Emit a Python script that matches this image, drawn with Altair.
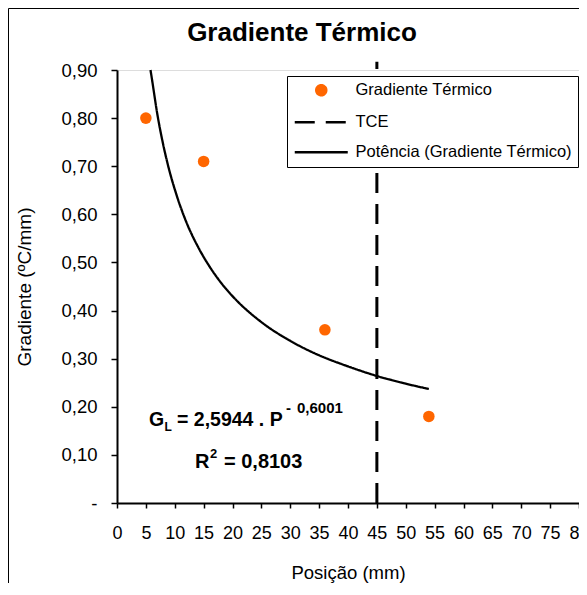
import altair as alt
import pandas as pd

# ---------------- data ----------------
pos_mm = [5, 15, 36, 54]
grad = [0.80, 0.71, 0.36, 0.18]

fit_pos = [5.8, 6, 7, 8, 9, 10, 12, 14, 16, 18, 20, 25, 30, 35, 40, 45, 50, 54]
fit_grad = [0.900, 0.885, 0.807, 0.745, 0.694, 0.652, 0.584, 0.533, 0.492, 0.458,
            0.430, 0.376, 0.337, 0.307, 0.284, 0.264, 0.248, 0.237]

tce_pos = [45]
tce_low = [0.0]
tce_high = [0.917]

series = ["Gradiente Térmico", "TCE", "Potência (Gradiente Térmico)"]
x_ticks = [0, 5, 10, 15, 20, 25, 30, 35, 40, 45, 50, 55, 60, 65, 70, 75, 80]
y_ticks = [0.0, 0.1, 0.2, 0.3, 0.4, 0.5, 0.6, 0.7, 0.8, 0.9]

# annotation anchors (data units)
eq_anchor = [5.54, 0.161]
r2_anchor = [13.5, 0.073]

# ---------------- styles ----------------
FONT = "Liberation Sans"
ORANGE = "#FF6600"

pts = pd.DataFrame({"x": pos_mm, "y": grad, "serie": series[0]})
tce = pd.DataFrame({"x": tce_pos, "y": tce_low, "y2": tce_high, "serie": series[1]})
fit = pd.DataFrame({"x": fit_pos, "y": fit_grad, "serie": series[2]})

legend = alt.Legend(
    title=None, orient="none", legendX=170, legendY=6, direction="vertical",
    padding=6, strokeColor="black", fillColor="white",
    labelFont=FONT, labelFontSize=16.5, labelColor="black", labelLimit=500,
    symbolSize=100, symbolStrokeWidth=2.5, symbolOffset=20, labelOffset=26,
    rowPadding=13,
)
sdom = dict(domain=series)
color_enc = alt.Color("serie:N", scale=alt.Scale(range=[ORANGE, "black", "black"], **sdom), legend=legend)
shape_enc = alt.Shape("serie:N", scale=alt.Scale(range=["circle", "M-5.3,0H5.3", "M-5.3,0H5.3"], **sdom), legend=legend)
dash_enc = alt.StrokeDash("serie:N", scale=alt.Scale(range=[[1, 0], [20, 11], [1, 0]], **sdom), legend=legend)

xscale = alt.Scale(domain=[0, 80], nice=False, zero=False)
yscale = alt.Scale(domain=[0, 0.9], nice=False, zero=False)

x_axis = alt.Axis(
    values=x_ticks, format="d", title="Posição (mm)", grid=False,
    tickSize=5, tickColor="black", tickWidth=1.5,
    domainColor="black", domainWidth=2,
    labelFont=FONT, labelFontSize=18, labelColor="black", labelPadding=16,
    labelFlush=False, labelOverlap=False,
    titleFont=FONT, titleFontSize=18.5, titleFontWeight="normal", titleColor="black",
    titlePadding=21,
)
y_axis = alt.Axis(
    values=y_ticks, title="Gradiente (ºC/mm)", grid=False,
    labelExpr="datum.value == 0 ? '-\u00a0' : replace(format(datum.value, '.2f'), '.', ',')",
    tickSize=6, tickColor="black", tickWidth=1.5,
    domainColor="black", domainWidth=2,
    labelFont=FONT, labelFontSize=18.5, labelColor="black", labelPadding=14,
    titleFont=FONT, titleFontSize=19, titleFontWeight="normal", titleColor="black",
    titlePadding=26,
)

X = alt.X("x:Q", scale=xscale, axis=x_axis)
Y = alt.Y("y:Q", scale=yscale, axis=y_axis)

points = alt.Chart(pts).mark_point(filled=True, size=133, opacity=1).encode(
    x=X, y=Y, color=color_enc, shape=shape_enc, strokeDash=dash_enc,
)

tce_rule = alt.Chart(tce).mark_rule(strokeWidth=3).encode(
    x=X, y=Y, y2="y2:Q", color=color_enc, strokeDash=dash_enc,
)

curve = alt.Chart(fit).mark_line(strokeWidth=2.3, interpolate="monotone").encode(
    x=X, y=Y, color=color_enc, strokeDash=dash_enc,
)


def txt(anchor, text, dx, dy, size):
    df = pd.DataFrame({"x": [anchor[0]], "y": [anchor[1]], "t": [text]})
    return alt.Chart(df).mark_text(
        align="left", baseline="alphabetic", dx=dx, dy=dy, fontSize=size,
        fontWeight="bold", font=FONT, color="black",
    ).encode(x=X, y=Y, text="t:N")


ann = [
    txt(eq_anchor, "G", 0, 0, 19.5),
    txt(eq_anchor, "L", 15.5, 5, 12),
    txt(eq_anchor, "= 2,5944 . P", 28, 0, 19.5),
    txt(eq_anchor, "-", 137, -13, 15),
    txt(eq_anchor, "0,6001", 148, -13, 15),
    txt(r2_anchor, "R", 0, 0, 20),
    txt(r2_anchor, "2", 15, -10, 13),
    txt(r2_anchor, "= 0,8103", 29, 0, 20),
]

frame_df = pd.DataFrame({"k": [0]})
frame_top = alt.Chart(frame_df).mark_rule(color="black", strokeWidth=1).encode(
    x=alt.value(-108.5), x2=alt.value(600), y=alt.value(-61.5))
frame_left = alt.Chart(frame_df).mark_rule(color="black", strokeWidth=1).encode(
    x=alt.value(-108.5), y=alt.value(-61.5), y2=alt.value(700))

chart = alt.layer(
    frame_top, frame_left, points, tce_rule, curve, *ann
).properties(
    width=462, height=433,
    title=alt.TitleParams(
        "Gradiente Térmico", font=FONT, fontSize=26, fontWeight="bold", color="black",
        frame="group", anchor="middle", dx=-46, offset=-38,
    ),
    autosize=alt.AutoSizeParams(type="none"),
    padding={"left": 109, "top": 62, "right": 0, "bottom": 80},
).configure_view(
    stroke="#404040", strokeWidth=1.5
).configure(background="white")

chart.save("out.html", embed_options={"renderer": "svg", "actions": False})
